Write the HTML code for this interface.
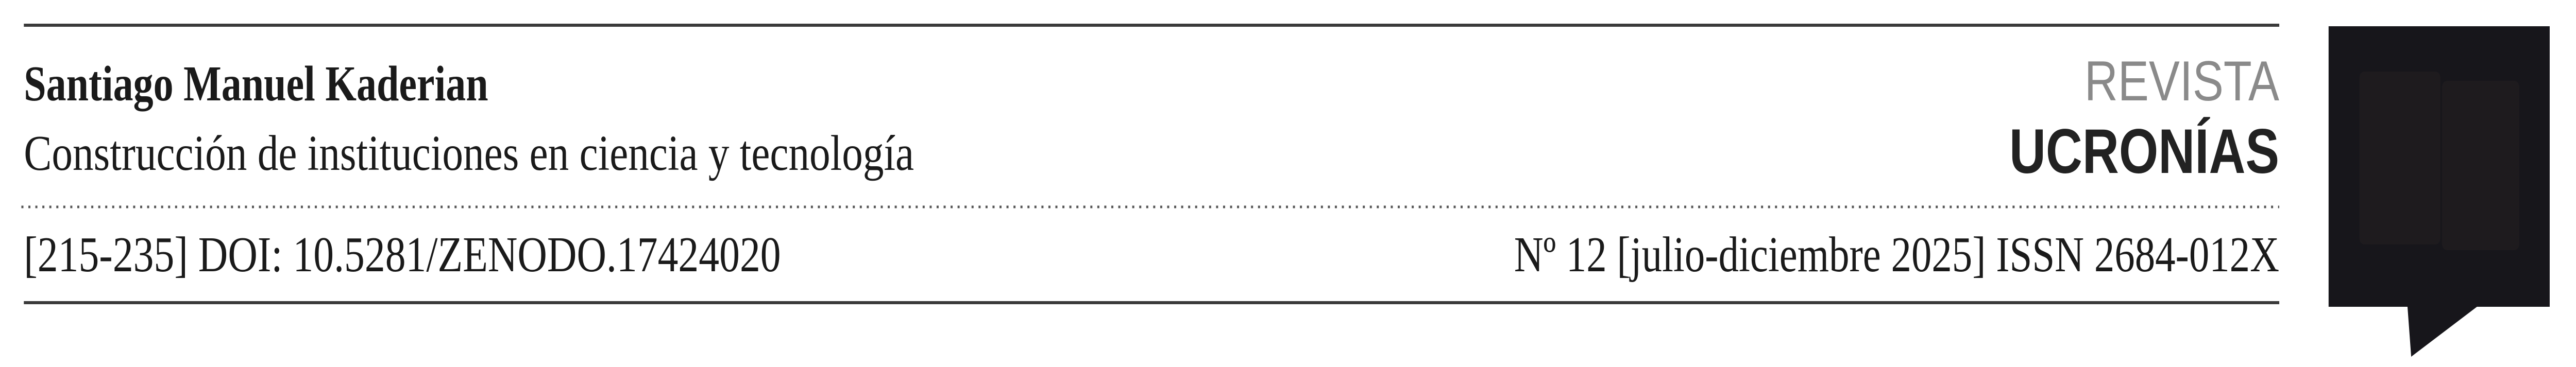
<!DOCTYPE html>
<html><head><meta charset="utf-8"><style>html,body{margin:0;padding:0;background:#fff;overflow:hidden;}svg{display:block;width:100vw;height:100vh;}</style></head>
<body>
<svg viewBox="0 0 6268 713" preserveAspectRatio="none" xmlns="http://www.w3.org/2000/svg">
<rect width="6268" height="713" fill="#fff"/>
<line x1="58" y1="49" x2="5546" y2="49" stroke="#3a3a3a" stroke-width="6"/>
<line x1="58" y1="588" x2="5546" y2="588" stroke="#3a3a3a" stroke-width="6"/>
<line x1="52" y1="402" x2="5546" y2="402" stroke="#555" stroke-width="5" stroke-dasharray="5 12"/>
<g font-family="'Liberation Serif', serif" fill="#1a1a1a">
<text x="58" y="195" font-size="98" font-weight="bold" textLength="1130" lengthAdjust="spacingAndGlyphs">Santiago Manuel Kaderian</text>
<text x="58" y="330" font-size="98" textLength="2166" lengthAdjust="spacingAndGlyphs">Construcción de instituciones en ciencia y tecnología</text>
<text x="58" y="527" font-size="98" textLength="1842" lengthAdjust="spacingAndGlyphs">[215-235] DOI: 10.5281/ZENODO.17424020</text>
<text x="3684" y="527" font-size="98" textLength="1862" lengthAdjust="spacingAndGlyphs">Nº 12 [julio-diciembre 2025] ISSN 2684-012X</text>
</g>
<g font-family="'Liberation Sans', sans-serif">
<text x="5072" y="195" font-size="110" fill="#8a8a8a" textLength="474" lengthAdjust="spacingAndGlyphs">REVISTA</text>
<text x="4889" y="336" font-size="123" font-weight="bold" fill="#222" textLength="657" lengthAdjust="spacingAndGlyphs">UCRONÍAS</text>
</g>
<path d="M5666 51 H6204 V596 H6027 L5867 693 L5858 596 H5666 Z" fill="#17161b"/>
<rect x="5741" y="139" width="197" height="336" rx="12" fill="#1e1b1e"/>
<rect x="5942" y="157" width="188" height="329" rx="12" fill="#1e1b1e"/>
</svg>
</body></html>
